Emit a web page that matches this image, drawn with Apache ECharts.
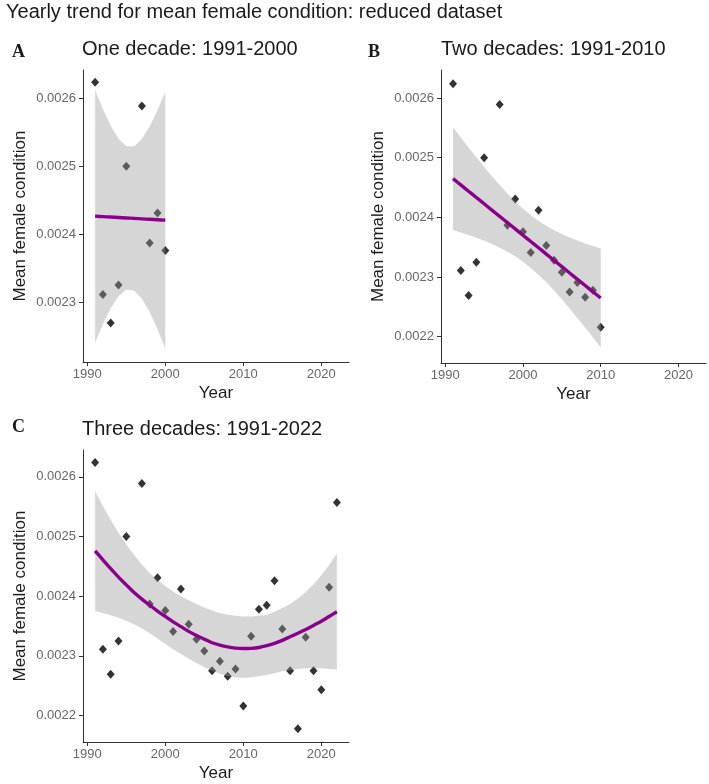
<!DOCTYPE html>
<html>
<head>
<meta charset="utf-8">
<script src="https://cdn.jsdelivr.net/npm/echarts@6/dist/echarts.min.js"></script>
<style>
html,body{margin:0;padding:0;background:#fff;}
#chart{width:709px;height:784px;}
</style>
</head>
<body>
<div id="chart"></div>
<script>
// ---- Observed yearly means (1996 missing) ----
const years = [1991,1992,1993,1994,1995,1997,1998,1999,2000,2001,2002,2003,2004,2005,2006,2007,2008,2009,2010,2011,2012,2013,2014,2015,2016,2017,2018,2019,2020,2021,2022];
const condition = [0.002624,0.002311,0.002269,0.002325,0.002500,0.002589,0.002387,0.002431,0.002376,0.002341,0.002412,0.002353,0.002328,0.002308,0.002275,0.002291,0.002266,0.002278,0.002216,0.002333,0.002378,0.002385,0.002426,0.002345,0.002275,0.002178,0.002331,0.002275,0.002243,0.002415,0.002557];

// ---- Panel A: linear fit + 95% CI ----
const fitAYears = [1991,1992,1993,1994,1995,1996,1997,1998,1999,2000];
const fitA   = [0.0024265,0.0024258,0.0024252,0.0024245,0.0024239,0.0024232,0.0024225,0.0024219,0.0024212,0.0024206];
const upperA = [0.0026126,0.0025845,0.0025598,0.0025405,0.0025297,0.0025296,0.0025402,0.0025590,0.0025828,0.0026099];
const lowerA = [0.0022404,0.0022671,0.0022906,0.0023085,0.0023181,0.0023168,0.0023048,0.0022848,0.0022596,0.0022313];

// ---- Panel B: linear fit + 95% CI ----
const fitBYears = [1991,1992,1993,1994,1995,1996,1997,1998,1999,2000,2001,2002,2003,2004,2005,2006,2007,2008,2009,2010];
const fitB   = [0.0024649,0.0024544,0.0024438,0.0024333,0.0024228,0.0024122,0.0024017,0.0023912,0.0023807,0.0023701,0.0023596,0.0023491,0.0023385,0.0023280,0.0023175,0.0023069,0.0022964,0.0022859,0.0022754,0.0022649];
const upperB = [0.0025509,0.0025340,0.0025172,0.0025008,0.0024847,0.0024691,0.0024541,0.0024400,0.0024267,0.0024146,0.0024038,0.0023942,0.0023858,0.0023786,0.0023722,0.0023664,0.0023612,0.0023564,0.0023520,0.0023478];
const lowerB = [0.0023789,0.0023748,0.0023704,0.0023658,0.0023609,0.0023553,0.0023493,0.0023424,0.0023347,0.0023256,0.0023154,0.0023040,0.0022912,0.0022774,0.0022628,0.0022474,0.0022316,0.0022154,0.0021988,0.0021820];

// ---- Panel C: quadratic fit + 95% CI ----
const fitCYears = [1991,1992,1993,1994,1995,1996,1997,1998,1999,2000,2001,2002,2003,2004,2005,2006,2007,2008,2009,2010,2011,2012,2013,2014,2015,2016,2017,2018,2019,2020,2021,2022];
const fitC   = [0.002476,0.002461,0.002446,0.002432,0.002419,0.002406,0.002395,0.002385,0.002375,0.002366,0.002357,0.002349,0.002341,0.002334,0.002328,0.002322,0.002318,0.002315,0.0023130,0.0023122,0.0023125,0.002314,0.002317,0.002321,0.002326,0.002332,0.002338,0.002344,0.002351,0.002358,0.002366,0.002374];
const upperC = [0.002576,0.002551,0.002528,0.002506,0.002487,0.002469,0.002453,0.002439,0.002427,0.002417,0.002408,0.002400,0.002393,0.002387,0.002381,0.002376,0.002372,0.002369,0.002367,0.002366,0.002366,0.002367,0.002369,0.002374,0.002380,0.002387,0.002396,0.002407,0.002420,0.002435,0.002452,0.002472];
const lowerC = [0.002375,0.002372,0.002368,0.002364,0.002359,0.002353,0.002346,0.002338,0.002329,0.002320,0.002311,0.002303,0.002295,0.002288,0.002281,0.002275,0.002270,0.002266,0.002264,0.002263,0.002264,0.002266,0.002268,0.002271,0.002274,0.002276,0.002278,0.002279,0.002279,0.002279,0.002278,0.002277];

// ---- Axis ticks ----
const xTicks = [1990,2000,2010,2020];
const yTicksA = [0.0023,0.0024,0.0025,0.0026];
const yTicksBC = [0.0022,0.0023,0.0024,0.0025,0.0026];

const FONT = '"Liberation Sans", Arial, sans-serif';
const SERIF = '"Liberation Serif", "Times New Roman", serif';

function pairs(xs, ys){ return xs.map((x,i)=>[x, ys[i]]); }
function pointsUpTo(endYear){
  const out = [];
  years.forEach((y,i)=>{ if (y <= endYear) out.push([y, condition[i]]); });
  return out;
}

function xAxis(gi){
  return {
    type:'value', gridIndex:gi, min:1989.45, max:2023.55,
    name:'Year', nameLocation:'middle', nameGap:23,
    nameTextStyle:{fontSize:17, color:'#1a1a1a', fontFamily:FONT},
    axisLine:{show:true, onZero:false, lineStyle:{color:'#333', width:1}},
    axisTick:{show:true, length:4, customValues:xTicks, lineStyle:{color:'#333'}},
    axisLabel:{customValues:xTicks, margin:6, fontSize:13, color:'#666', fontFamily:FONT, formatter:v=>String(Math.round(v))},
    splitLine:{show:false}
  };
}
function yAxis(gi, min, max, ticks){
  return {
    type:'value', gridIndex:gi, min:min, max:max,
    name:'Mean female condition', nameLocation:'middle', nameGap:54, nameRotate:90,
    nameTextStyle:{fontSize:17, color:'#1a1a1a', fontFamily:FONT},
    axisLine:{show:true, onZero:false, lineStyle:{color:'#333', width:1}},
    axisTick:{show:true, length:4, customValues:ticks, lineStyle:{color:'#333'}},
    axisLabel:{customValues:ticks, margin:7, fontSize:13, color:'#666', fontFamily:FONT, formatter:v=>v.toFixed(4)},
    splitLine:{show:false}
  };
}

function scatter(gi, endYear){
  return {
    type:'scatter', xAxisIndex:gi, yAxisIndex:gi, z:1,
    symbol:'diamond', symbolSize:[8,9],
    itemStyle:{color:'#000'},
    data: pointsUpTo(endYear),
    silent:true
  };
}
function band(gi, xs, up, lo){
  const upP = pairs(xs, up);
  const loP = pairs(xs, lo).reverse();
  return {
    type:'custom', xAxisIndex:gi, yAxisIndex:gi, z:2, silent:true,
    data:[[xs[0], up[0]]],
    renderItem:function(params, api){
      const pts = upP.map(p=>api.coord(p)).concat(loP.map(p=>api.coord(p)));
      return {type:'polygon', shape:{points:pts}, style:{fill:'rgba(153,153,153,0.4)', stroke:null}};
    }
  };
}
function fitLine(gi, xs, ys){
  return {
    type:'line', xAxisIndex:gi, yAxisIndex:gi, z:3, silent:true,
    data:pairs(xs, ys), smooth:0.3, showSymbol:false, symbol:'none',
    lineStyle:{color:'#8B008B', width:3.4, join:'round', cap:'butt'}
  };
}

function ttl(text, left, top, size, family, weight){
  return {text:text, left:left, top:top, padding:0,
    textStyle:{fontSize:size, fontFamily:family, fontWeight:weight, color:'#1a1a1a'}};
}

const option = {
  animation:false,
  backgroundColor:'#fff',
  title:[
    ttl('Yearly trend for mean female condition: reduced dataset', 6, 2, 20, FONT, 'normal'),
    ttl('A', 12, 43, 18, SERIF, 'bold'),
    ttl('One decade: 1991-2000', 82, 39, 20, FONT, 'normal'),
    ttl('B', 368, 43, 18, SERIF, 'bold'),
    ttl('Two decades: 1991-2010', 441, 39, 20, FONT, 'normal'),
    ttl('C', 12, 418, 18, SERIF, 'bold'),
    ttl('Three decades: 1991-2022', 82, 419, 20, FONT, 'normal')
  ],
  grid:[
    {left:83, top:70, width:266, height:292},
    {left:441, top:70, width:265, height:293},
    {left:83, top:450, width:266, height:292}
  ],
  xAxis:[xAxis(0), xAxis(1), xAxis(2)],
  yAxis:[
    yAxis(0, 0.0022115, 0.002642, yTicksA),
    yAxis(1, 0.002156, 0.002647, yTicksBC),
    yAxis(2, 0.0021556, 0.0026450, yTicksBC)
  ],
  series:[
    scatter(0, 2000), band(0, fitAYears, upperA, lowerA), fitLine(0, fitAYears, fitA),
    scatter(1, 2010), band(1, fitBYears, upperB, lowerB), fitLine(1, fitBYears, fitB),
    scatter(2, 2022), band(2, fitCYears, upperC, lowerC), fitLine(2, fitCYears, fitC)
  ]
};

const chart = echarts.init(document.getElementById('chart'), null, {renderer:'canvas'});
chart.setOption(option);
</script>
</body>
</html>
